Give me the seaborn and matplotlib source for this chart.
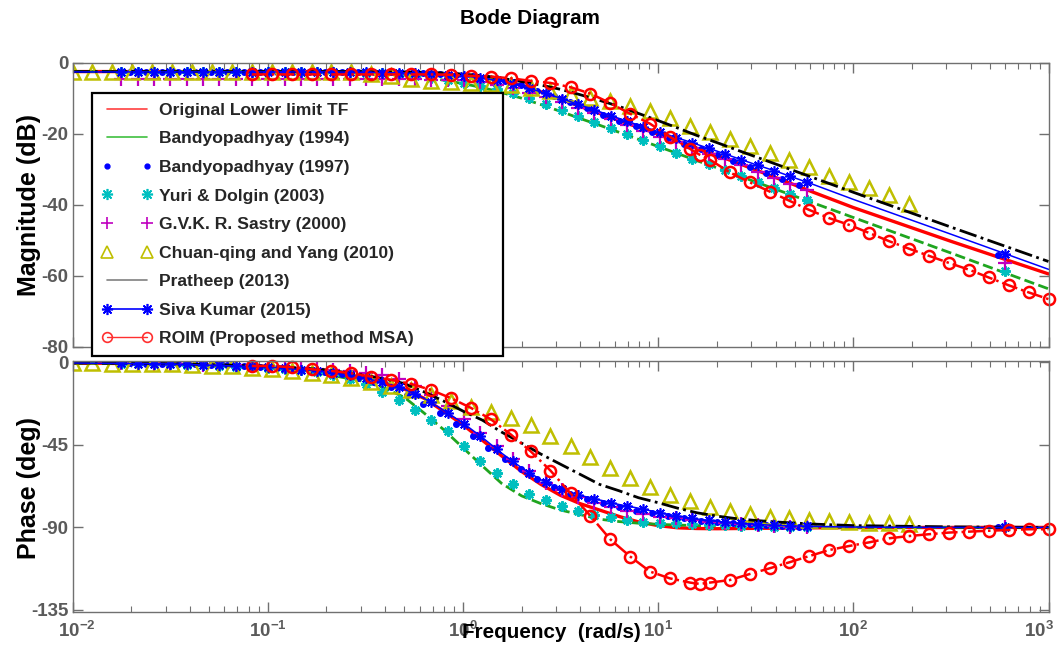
import matplotlib
matplotlib.use("Agg")
import matplotlib.pyplot as plt
import seaborn as sns
from matplotlib.lines import Line2D
from matplotlib import font_manager as fm
from matplotlib.transforms import ScaledTranslation
from matplotlib.ticker import FixedLocator, LogLocator, NullFormatter

# ---------------- data ----------------
LABELS = ["Original Lower limit TF", "Bandyopadhyay (1994)", "Bandyopadhyay (1997)",
          "Yuri & Dolgin (2003)", "G.V.K. R. Sastry (2000)", "Chuan-qing and Yang (2010)",
          "Pratheep (2013)", "Siva Kumar (2015)", "ROIM (Proposed method MSA)"]

# frequency grid for the continuous curves (rad/s)
W_LINE = [0.01, 0.0316, 0.1, 0.2, 0.316, 0.398, 0.501, 0.631, 0.794, 1.0, 1.26, 1.58, 2.0,
          2.51, 3.16, 3.98, 5.01, 6.31, 7.94, 10.0, 12.6, 15.8, 20.0, 25.1, 31.6, 39.8, 63.1,
          100, 316, 1000]
ORIG_MAG = [-2.5, -2.5, -2.5, -2.5, -2.6, -2.7, -2.8, -3.0, -3.2, -3.5, -4.0, -5.0, -6.4, -8.2,
            -10.2, -12.3, -14.3, -16.3, -18.2, -20.1, -22.1, -24.1, -26.1, -28.1, -30.2, -32.3,
            -36.6, -40.8, -50.3, -59.5]
ORIG_PH = [-0.3, -0.8, -2.5, -5.0, -8.5, -11.2, -14.5, -19.5, -26.5, -34.0, -42.5, -51.0, -59.5,
           -66.5, -72.5, -77.0, -80.5, -84.0, -87.0, -89.0, -90.2, -90.6, -90.7, -90.6, -90.5,
           -90.4, -90.2, -90.1, -90.0, -90.0]
BANDY94_MAG = [-2.5, -2.5, -2.5, -2.6, -2.8, -3.1, -3.5, -4.1, -4.9, -5.9, -7.0, -8.4, -10.0,
               -11.8, -13.7, -15.7, -17.6, -19.6, -21.6, -23.6, -25.6, -27.6, -29.6, -31.6,
               -33.6, -35.6, -39.6, -43.6, -53.6, -63.7]
BANDY94_PH = [-0.3, -1.0, -3.0, -6.5, -10.5, -14.0, -19.0, -27.5, -36.5, -46.5, -56.5, -66.0,
              -72.8, -77.0, -80.5, -83.0, -85.5, -86.8, -87.7, -88.3, -88.7, -89.0, -89.2, -89.4,
              -89.6, -89.7, -89.8, -89.9, -90.0, -90.0]
PRATHEEP_MAG = [-2.5, -2.5, -2.5, -2.5, -2.5, -2.6, -2.6, -2.7, -2.9, -3.2, -3.7, -4.4, -5.3,
                -6.3, -7.5, -9.0, -10.6, -12.3, -14.3, -16.3, -18.4, -20.5, -22.5, -24.5, -26.5,
                -28.5, -32.5, -36.5, -46.3, -56.0]
PRATHEEP_PH = [-0.3, -0.7, -2.0, -4.0, -7.0, -9.0, -11.5, -16.0, -21.0, -26.5, -31.5, -38.0,
               -44.0, -50.0, -55.5, -61.0, -66.5, -70.0, -73.8, -76.5, -79.5, -82.0, -83.8,
               -85.2, -86.2, -87.0, -88.2, -89.0, -89.7, -90.0]
SIVA_LINE_MAG = [-2.6, -2.6, -2.6, -2.6, -2.7, -2.8, -2.9, -3.1, -3.3, -3.7, -4.3, -5.3, -6.6,
                 -8.2, -10.0, -11.9, -13.8, -15.7, -17.6, -19.4, -21.2, -23.0, -24.9, -26.8,
                 -28.7, -30.5, -34.4, -38.5, -48.3, -58.2]
SIVA_LINE_PH = [-0.3, -0.8, -2.5, -5.0, -8.5, -11.2, -14.5, -19.5, -26.0, -33.0, -41.0, -49.5,
                -57.5, -64.0, -69.0, -72.5, -75.0, -77.5, -79.5, -81.8, -83.8, -85.4, -86.7,
                -87.6, -88.3, -88.9, -89.5, -89.8, -90.0, -90.0]

# marker frequencies of Yuri / Sastry / Siva Kumar
W_B = [0.0178, 0.0216, 0.0261, 0.0317, 0.0384, 0.0466, 0.0565, 0.0684, 0.0830, 0.100, 0.122,
       0.148, 0.179, 0.217, 0.263, 0.319, 0.387, 0.469, 0.569, 0.689, 0.836, 1.01, 1.23, 1.49,
       1.80, 2.19, 2.65, 3.21, 3.90, 4.72, 5.73, 6.95, 8.41, 10.2, 12.4, 15.0, 18.2, 22.0, 26.7,
       32.4, 39.3, 47.6, 57.7, 600]
SIVA_MAG = [-2.6] * 14 + [-2.65, -2.7, -2.8, -2.9, -3.0, -3.2, -3.4, -3.7, -4.2, -5.0, -6.0,
                          -7.2, -8.6, -10.1, -11.7, -13.3, -14.9, -16.5, -18.0, -19.6, -21.1,
                          -22.6, -24.1, -25.7, -27.3, -28.9, -30.4, -32.0, -33.6, -53.9]
SIVA_PH = [-0.5, -0.6, -0.7, -0.8, -1.0, -1.3, -1.6, -1.9, -2.2, -2.5, -3.2, -3.9, -4.6, -5.5,
           -7.1, -8.6, -10.9, -13.5, -17.3, -21.8, -27.5, -33.5, -40.1, -47.2, -54.0, -60.1,
           -65.2, -69.2, -72.2, -74.4, -76.5, -78.3, -80.1, -82.0, -83.6, -85.0, -86.2, -87.1,
           -87.8, -88.4, -88.9, -89.2, -89.4, -90.0]
YURI_MAG = [-2.5] * 13 + [-2.6, -2.7, -2.8, -3.0, -3.3, -3.7, -4.2, -4.8, -5.6, -6.5, -7.5, -8.6,
                          -10.0, -11.7, -13.3, -15.1, -16.8, -18.5, -20.2, -21.9, -23.6, -25.3,
                          -27.0, -28.6, -30.3, -32.0, -33.6, -35.3, -37.0, -38.6, -58.8]
YURI_PH = [-0.6, -0.8, -0.9, -1.0, -1.3, -1.6, -1.9, -2.3, -2.7, -3.0, -3.6, -4.3, -5.4, -7.0,
           -9.0, -12.0, -16.0, -20.7, -26.0, -31.2, -37.6, -45.5, -53.6, -60.4, -66.5, -71.5,
           -75.0, -78.2, -81.2, -83.0, -84.5, -85.9, -86.8, -87.4, -87.8, -88.2, -88.5, -88.8,
           -89.1, -89.3, -89.5, -89.7, -89.9, -90.0]
SASTRY_MAG = [-4.7] * 19 + [-4.75, -4.85, -5.0, -5.5, -6.3, -7.2, -8.4, -9.7, -11.1, -12.7,
                            -14.3, -15.9, -17.6, -19.2, -20.8, -22.3, -24.0, -25.6, -27.2, -28.9,
                            -30.7, -32.6, -34.3, -35.9, -56.5]
SASTRY_PH = [-0.5, -0.6, -0.7, -0.8, -1.0, -1.2, -1.4, -1.6, -1.8, -2.0, -2.5, -3.1, -3.7, -4.3,
             -4.9, -5.6, -6.8, -9.1, -12.8, -17.6, -23.8, -31.0, -38.5, -45.7, -52.5, -59.2,
             -65.6, -69.8, -73.2, -76.5, -78.9, -81.0, -82.9, -84.1, -85.0, -86.1, -87.0, -87.6,
             -88.2, -88.7, -89.3, -89.6, -90.0, -90.0]

# marker frequencies of Bandyopadhyay (1997)
W_D = [0.0196, 0.0238, 0.0288, 0.0349, 0.0423, 0.0513, 0.0622, 0.0753, 0.0914, 0.111, 0.134,
       0.163, 0.197, 0.239, 0.290, 0.352, 0.427, 0.516, 0.627, 0.759, 0.920, 1.12, 1.35, 1.64,
       1.99, 2.41, 2.92, 3.54, 4.30, 5.20, 6.31, 7.66, 9.27, 11.2, 13.6, 16.5, 20.0, 24.3, 29.4,
       35.6, 43.3, 52.5, 548]
BANDY97_MAG = [-2.5] * 14 + [-2.55, -2.6, -2.7, -2.8, -3.0, -3.2, -3.4, -3.8, -4.3, -5.2, -6.4,
                             -7.9, -9.5, -11.2, -12.9, -14.6, -16.3, -17.9, -19.6, -21.2, -22.8,
                             -24.4, -26.0, -27.8, -29.4, -31.0, -32.7, -34.5, -54.3]
BANDY97_PH = [-0.5, -0.6, -0.7, -0.9, -1.0, -1.3, -1.6, -1.9, -2.3, -2.8, -3.4, -4.2, -5.2,
              -6.5, -8.3, -10.5, -13.5, -17.5, -22.5, -27.7, -33.7, -40.1, -46.5, -52.8, -58.3,
              -63.6, -67.8, -71.7, -74.6, -76.8, -78.9, -81.0, -82.3, -83.7, -85.0, -86.3, -87.0,
              -87.7, -88.3, -88.8, -89.2, -89.6, -90.0]

# Chuan-qing and Yang (2010) markers
W_CHUAN = [0.0100, 0.0126, 0.0160, 0.0202, 0.0256, 0.0324, 0.0409, 0.0518, 0.0655, 0.0829,
           0.105, 0.133, 0.168, 0.212, 0.268, 0.339, 0.429, 0.543, 0.687, 0.869, 1.10, 1.39,
           1.76, 2.22, 2.81, 3.56, 4.50, 5.69, 7.20, 9.10, 11.5, 14.6, 18.4, 23.3, 29.5, 37.3,
           47.1, 59.6, 75.4, 95.4, 121, 153, 193]
CHUAN_MAG = [-2.5] * 14 + [-2.7, -3.1, -3.7, -4.5, -5.1, -5.5, -5.7, -5.9, -6.4, -7.1, -7.9,
                           -8.9, -9.9, -10.9, -12.1, -13.7, -15.6, -17.7, -19.4, -21.5, -23.6,
                           -25.4, -27.3, -29.4, -31.8, -33.7, -35.3, -37.4, -39.7]
CHUAN_PH = [-0.4, -0.5, -0.6, -0.7, -0.9, -1.1, -1.4, -1.7, -2.2, -2.8, -3.5, -4.4, -5.6, -7.0,
            -8.7, -10.6, -12.8, -15.2, -18.0, -21.2, -24.2, -27.0, -30.2, -34.3, -40.0, -45.6,
            -51.4, -57.4, -62.9, -68.1, -72.3, -75.6, -78.7, -80.9, -82.7, -84.1, -85.0, -85.9,
            -86.5, -87.0, -87.4, -87.7, -88.1]

# ROIM (proposed method MSA)
W_ROIM = [0.0829, 0.105, 0.133, 0.168, 0.212, 0.268, 0.339, 0.429, 0.543, 0.687, 0.869, 1.10,
          1.39, 1.76, 2.22, 2.81, 3.56, 4.50, 5.69, 7.20, 9.10, 11.5, 14.6, 16.3, 18.4, 23.3,
          29.5, 37.3, 47.1, 59.6, 75.4, 95.4, 121, 153, 193, 244, 309, 391, 494, 625, 791, 1000]
ROIM_MAG = [-3.3] * 10 + [-3.4, -3.7, -3.9, -4.4, -5.1, -5.7, -6.9, -8.7, -11.4, -14.4, -17.2,
                          -20.9, -24.3, -25.9, -27.3, -30.9, -33.7, -36.3, -38.9, -41.5, -43.8,
                          -45.7, -48.0, -50.3, -52.4, -54.4, -56.4, -58.3, -60.5, -62.7, -64.7,
                          -66.6]
ROIM_PH = [-1.9, -1.9, -2.6, -3.7, -4.6, -5.9, -7.7, -9.5, -11.7, -15.0, -19.5, -24.8, -31.0,
           -39.3, -48.4, -59.0, -71.4, -83.7, -96.5, -105.9, -114.1, -117.8, -120.1, -120.8,
           -120.1, -118.7, -115.4, -112.3, -109.0, -105.6, -102.3, -100.1, -98.1, -95.9, -94.7,
           -93.7, -92.8, -92.3, -91.8, -91.4, -91.0, -91.0]

MAG_TICKS = [0, -20, -40, -60, -80]
PH_TICKS = [0, -45, -90, -135]
X_TICKS = [1e-2, 1e-1, 1e0, 1e1, 1e2, 1e3]
X_TICKLABELS = [r"$\mathbf{10^{-2}}$", r"$\mathbf{10^{-1}}$", r"$\mathbf{10^{0}}$",
                r"$\mathbf{10^{1}}$", r"$\mathbf{10^{2}}$", r"$\mathbf{10^{3}}$"]

# ---------------- style ----------------
sns.set_theme(style="white")
names = {f.name for f in fm.fontManager.ttflist}
if "Liberation Sans Narrow" in names:
    FAM = ["Liberation Sans Narrow", "DejaVu Sans"]
    FS = 1.0
else:
    FAM = ["Liberation Sans", "DejaVu Sans"]
    FS = 0.9
plt.rcParams["font.family"] = FAM
plt.rcParams["axes.unicode_minus"] = False
plt.rcParams["mathtext.fontset"] = "custom"
plt.rcParams["mathtext.rm"] = "Liberation Sans"
plt.rcParams["mathtext.bf"] = "Liberation Sans:bold"

RED = "#FF0000"
GREEN = "#1FA51F"
BLUE = "#0000FF"
CYAN = "#00BFBF"
MAG = "#BF00BF"
YEL = "#BFBF00"
AST = (8, 2, 0)

fig = plt.figure(figsize=(10.59, 6.52), dpi=100)
L, W = 72.5 / 1059, 976 / 1059
ax1 = fig.add_axes([L, 1 - 346.7 / 652, W, 284 / 652])
ax2 = fig.add_axes([L, 1 - 612.3 / 652, W, 251.3 / 652])


def draw(ax, x, y, **kw):
    kw.setdefault("markeredgewidth", 1.0)
    sns.lineplot(x=x, y=y, ax=ax, estimator=None, sort=False, errorbar=None, legend=False, **kw)


for ax, idx in ((ax1, 0), (ax2, 1)):
    ax.set_xscale("log")
    d = [(ORIG_MAG, ORIG_PH), (BANDY94_MAG, BANDY94_PH), (PRATHEEP_MAG, PRATHEEP_PH),
         (SIVA_LINE_MAG, SIVA_LINE_PH)]
    draw(ax, W_LINE, d[0][idx], color=RED, linewidth=2.4)
    draw(ax, W_LINE, d[1][idx], color=GREEN, linewidth=2.0, linestyle="--", dashes=(3, 1.6))
    draw(ax, W_D, [BANDY97_MAG, BANDY97_PH][idx], color=BLUE, linestyle="none", marker=".",
         markersize=8, markeredgecolor=BLUE)
    draw(ax, W_B, [YURI_MAG, YURI_PH][idx], color=CYAN, linestyle="none", marker=AST,
         markersize=7.5, markeredgecolor=CYAN, markeredgewidth=1.6)
    draw(ax, W_B, [SASTRY_MAG, SASTRY_PH][idx], color=MAG, linestyle="none", marker="+",
         markersize=10, markeredgecolor=MAG, markeredgewidth=1.6)
    draw(ax, W_CHUAN, [CHUAN_MAG, CHUAN_PH][idx], color=YEL, linestyle="none", marker="^",
         markersize=10, markeredgecolor=YEL, markerfacecolor="none", markeredgewidth=1.8)
    draw(ax, W_LINE, d[2][idx], color="black", linewidth=2.0, linestyle="-.",
         dashes=(4, 1.6, 1, 1.6))
    draw(ax, W_LINE, d[3][idx], color=BLUE, linewidth=1.1)
    draw(ax, W_B, [SIVA_MAG, SIVA_PH][idx], color=BLUE, linestyle="none", marker=AST,
         markersize=7.5, markeredgecolor=BLUE, markeredgewidth=1.2)
    draw(ax, W_ROIM, [ROIM_MAG, ROIM_PH][idx], color=RED, linewidth=1.8, linestyle="-.",
         dashes=(4, 1.6, 1, 1.6), marker="o", markersize=8, markeredgecolor=RED,
         markerfacecolor="none", markeredgewidth=1.8, clip_on=False)

    ax.set_xlim(0.01, 1000)
    ax.xaxis.set_major_locator(FixedLocator(X_TICKS))
    ax.xaxis.set_minor_locator(LogLocator(base=10, subs=[2, 3, 4, 5, 6, 7, 8, 9], numticks=20))
    ax.xaxis.set_minor_formatter(NullFormatter())
    ax.tick_params(which="both", direction="in", top=True, right=True, bottom=True, left=True,
                   colors="#707070", labelcolor="#5a5a5a")
    ax.tick_params(which="major", length=7, width=1.0, pad=3)
    ax.tick_params(which="minor", length=4, width=0.8)
    for s in ax.spines.values():
        s.set_color("#707070")
        s.set_linewidth(1.0)
    ax.set_xlabel("")
    ax.set_ylabel("")
    ax.grid(False)

ax1.set_ylim(-80, 0)
ax1.set_yticks(MAG_TICKS)
ax1.set_yticklabels([str(t) for t in MAG_TICKS], fontsize=15 * FS, fontweight="bold",
                    color="#5a5a5a")
ax1.set_xticklabels([])

ax2.set_ylim(-136.3, 0.8)
ax2.set_yticks(PH_TICKS)
ax2.set_yticklabels([str(t) for t in PH_TICKS], fontsize=15 * FS, fontweight="bold",
                    color="#5a5a5a")
xt = ax2.set_xticklabels(X_TICKLABELS, fontsize=15 * FS, color="#5a5a5a")
ax2.tick_params(axis="x", which="major", pad=6)
# keep the last tick label inside the figure, as in the reference
xt[-1].set_transform(xt[-1].get_transform() + ScaledTranslation(-7 / 72, 0, fig.dpi_scale_trans))
xt[0].set_transform(xt[0].get_transform() + ScaledTranslation(3 / 72, 0, fig.dpi_scale_trans))

fig.text(0.5, 1 - 18 / 652, "Bode Diagram", ha="center", va="center", fontsize=16.5 * FS,
         fontweight="bold", color="black")
fig.text(29 / 1059, 1 - 205 / 652, "Magnitude (dB)", rotation=90, ha="center", va="center",
         fontsize=20 * FS, fontweight="bold", color="black")
fig.text(29 / 1059, 1 - 488 / 652, "Phase (deg)", rotation=90, ha="center", va="center",
         fontsize=20 * FS, fontweight="bold", color="black")
fig.text(551 / 1059, 1 - 633 / 652, "Frequency  (rad/s)", ha="center", va="center",
         fontsize=16.5 * FS, fontweight="bold", color="black", zorder=10)

handles = [
    Line2D([], [], color="#FF4040", lw=1.2),
    Line2D([], [], color="#40C040", lw=1.2),
    Line2D([], [], color=BLUE, ls="none", marker=".", ms=7),
    Line2D([], [], color=CYAN, ls="none", marker=AST, ms=8, mew=1.2),
    Line2D([], [], color=MAG, ls="none", marker="+", ms=9, mew=1.2),
    Line2D([], [], color=YEL, ls="none", marker="^", ms=8, mfc="none", mew=1.2),
    Line2D([], [], color="#808080", lw=1.2),
    Line2D([], [], color=BLUE, lw=1.2, marker=AST, ms=8, mew=1.2),
    Line2D([], [], color="#FF3030", lw=1.0, marker="o", ms=7, mfc="none", mew=1.2),
]
LEG_FS = 14 * FS
leg = fig.legend(handles, LABELS, loc="upper left",
                 bbox_to_anchor=(92 / 1059, 1 - 356 / 652, 411 / 1059, 263 / 652), mode="expand",
                 numpoints=2, frameon=True, fancybox=False, shadow=False, edgecolor="black",
                 framealpha=1, handlelength=2.9, handletextpad=0.4, labelspacing=0.76,
                 borderpad=0.55, borderaxespad=0,
                 prop=dict(family=FAM, weight="bold", size=LEG_FS))
leg.get_frame().set_linewidth(1.6)
leg.set_zorder(20)

fig.savefig("out.png", dpi=100, facecolor="white")
